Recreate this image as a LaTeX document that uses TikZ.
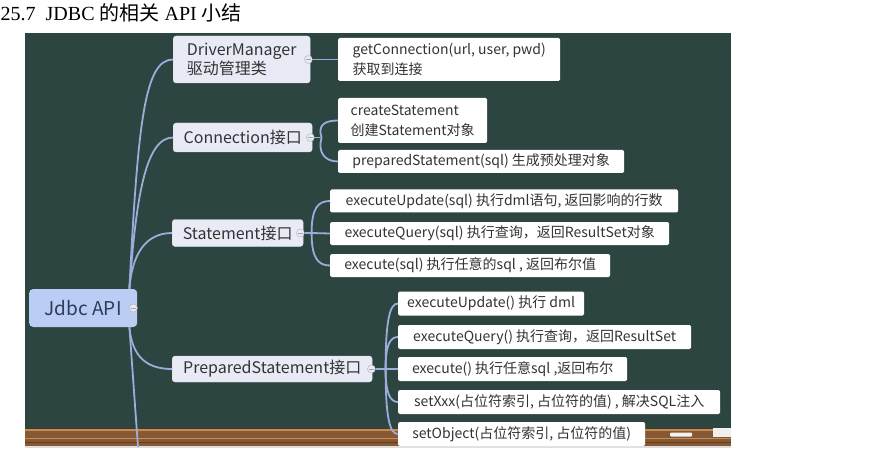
\documentclass[tikz,border=0pt]{standalone}
\usepackage{fontspec}
\setmainfont{Liberation Serif}
\newfontfamily\cjk{Noto Sans CJK SC}
\usetikzlibrary{positioning}

\definecolor{board}{RGB}{44,69,64}
\definecolor{wood}{RGB}{136,88,50}
\definecolor{woodlight}{RGB}{190,142,90}
\definecolor{branchblue}{RGB}{158,172,220}
\definecolor{topicfill}{RGB}{232,235,246}
\definecolor{rootfill}{RGB}{186,206,245}
\definecolor{inktext}{RGB}{51,51,51}
\definecolor{rootink}{RGB}{47,59,88}

\tikzset{
  rootbox/.style={fill=rootfill, rounded corners=4pt, text=rootink, font=\cjk\fontsize{19}{24}\selectfont, anchor=west},
  topicbox/.style={fill=topicfill, draw=topicfill!85!gray, rounded corners=3pt, text=inktext, font=\cjk\fontsize{16}{19}\selectfont, align=left, inner xsep=9pt, anchor=west},
  leafbox/.style={fill=white, rounded corners=1.5pt, text=inktext, font=\cjk\fontsize{14}{20}\selectfont, align=left, inner xsep=9pt, anchor=west},
  branchline/.style={draw=branchblue, line width=1.8pt},
  foldmark/.style={circle, draw=gray!60, fill=topicfill, inner sep=0pt, minimum size=8pt,
    path picture={\draw [gray!70, line width=0.9pt] ([xshift=-2.2pt]path picture bounding box.center) -- ([xshift=2.2pt]path picture bounding box.center);}},
}

\begin{document}
\begin{tikzpicture}[x=1pt, y=-1pt]
    \useasboundingbox (0,0) rectangle (874,454);
    \fill [white] (0,0) rectangle (874,454);

    % heading
    \node [anchor=base west] [inner sep=0pt] [font=\fontsize{20}{24}\selectfont] (heading) at (0.5,21) {25.7\ \ JDBC {\cjk 的相关} API {\cjk 小结}};

    % chalkboard and ledge
    \fill [board] (25,33) rectangle (731,428);
    \fill [wood] (25,428) rectangle (731,446);
    \fill [wood!60!black] (25,428) rectangle (731,429);
    \fill [woodlight] (25,429) rectangle (731,430.5);
    \fill [woodlight] (25,437.5) rectangle (731,439);
    \fill [wood!70!black] (25,442) rectangle (731,443);
    \fill [gray!25] (25,446) rectangle (731,448);
    \fill [white!90!gray, rounded corners=1pt] (670,432.5) rectangle (692,436.5);
    \fill [white!88!gray] (713,428) rectangle (731,437);

    % root and first level
    \node [rootbox] (api) at (29,308) [minimum width=108pt, minimum height=38pt] {Jdbc API};
    \node [topicbox] (dm) at (173,59.5) [minimum width=137pt, minimum height=47pt] {DriverManager\\驱动管理类};
    \node [topicbox] (conn) at (173,137.5) [minimum width=139pt, minimum height=29pt] {Connection接口};
    \node [topicbox] (stmt) at (172,233) [minimum width=131pt, minimum height=27pt] {Statement接口};
    \node [topicbox] (pstmt) at (172,369) [minimum width=200pt, minimum height=26pt] {PreparedStatement接口};

    % second level
    \node [leafbox] (getconn) at (338,59.5) [minimum width=222pt, minimum height=43pt] {getConnection(url, user, pwd)\\获取到连接};
    \node [leafbox] (createst) at (338,120.5) [minimum width=149pt, minimum height=45pt] {createStatement\\创建Statement对象};
    \node [leafbox] (prepst) at (338,161.5) [minimum width=286pt, minimum height=23pt] {preparedStatement(sql) 生成预处理对象};

    \node [leafbox] (stupd) at (330,201) [minimum width=348pt, minimum height=23pt] {executeUpdate(sql) 执行dml语句, 返回影响的行数};
    \node [leafbox] (stqry) at (330,233.5) [minimum width=339pt, minimum height=23pt] {executeQuery(sql) 执行查询，返回ResultSet对象};
    \node [leafbox] (stexe) at (330,265.5) [minimum width=280pt, minimum height=23pt] {execute(sql) 执行任意的sql , 返回布尔值};

    \node [leafbox] (psupd) at (398,303.5) [minimum width=185pt, minimum height=24pt] {executeUpdate() 执行 dml};
    \node [leafbox] (psqry) at (398,337) [minimum width=293pt, minimum height=24pt] {executeQuery() 执行查询，返回ResultSet};
    \node [leafbox] (psexe) at (398,369) [minimum width=229pt, minimum height=24pt] {execute() 执行任意sql ,返回布尔};
    \node [leafbox] (psset) at (398,402) [minimum width=322pt, minimum height=24pt] {setXxx(占位符索引, 占位符的值) , 解决SQL注入};
    \node [leafbox] (psobj) at (398,434) [minimum width=247pt, minimum height=24pt] {setObject(占位符索引, 占位符的值)};

    % fold marks
    \node [foldmark] (apifold) at ([xshift=-4pt]api.east) {};
    \node [foldmark] (dmfold) at ([xshift=-2pt]dm.east) {};
    \node [foldmark] (connfold) at ([xshift=-2pt]conn.east) {};
    \node [foldmark] (stmtfold) at ([xshift=-3pt]stmt.east) {};
    \node [foldmark] (pstmtfold) at ([xshift=-1pt]pstmt.east) {};

    % joints
    \coordinate (apitop) at ([xshift=-8pt]api.north east);
    \coordinate (apibottom) at ([xshift=-8pt]api.south east);
    \coordinate (offboard) at (138,447);
    \coordinate (connjoint) at ([xshift=7pt]connfold.east);
    \coordinate (stmtjoint) at ([xshift=7pt]stmtfold.east);
    \coordinate (pstmtjoint) at ([xshift=10pt]pstmtfold.east);

    % root branches
    \draw [branchline] (apitop) .. controls (138,120) and (145,59.5) .. (dm.west);
    \draw [branchline] (apitop) .. controls (136,200) and (145,137.5) .. (conn.west);
    \draw [branchline] (apitop) .. controls (132,255) and (145,233) .. (stmt.west);
    \draw [branchline] (apibottom) .. controls (132,355) and (145,369) .. (pstmt.west);
    \draw [branchline] (apibottom) -- (offboard);

    % DriverManager
    \draw [branchline] (dmfold) -- (getconn);

    % Connection
    \draw [branchline] (connfold) -- (connjoint);
    \draw [branchline] (connjoint) .. controls +(-4,-12) and +(-14,0) .. (createst.west);
    \draw [branchline] (connjoint) .. controls +(-4,14) and +(-14,0) .. (prepst.west);

    % Statement
    \draw [branchline] (stmtfold) -- (stmtjoint);
    \draw [branchline] (stmtjoint) .. controls +(0,-25) and +(-12,0) .. (stupd.west);
    \draw [branchline] (stmtjoint) -- (stqry.west);
    \draw [branchline] (stmtjoint) .. controls +(0,25) and +(-12,0) .. (stexe.west);

    % PreparedStatement
    \draw [branchline] (pstmtfold) -- (pstmtjoint);
    \draw [branchline] (pstmtjoint) .. controls +(0,-50) and +(-8,0) .. (psupd.west);
    \draw [branchline] (pstmtjoint) .. controls +(0,-24) and +(-8,0) .. (psqry.west);
    \draw [branchline] (pstmtjoint) -- (psexe.west);
    \draw [branchline] (pstmtjoint) .. controls +(0,24) and +(-8,0) .. (psset.west);
    \draw [branchline] (pstmtjoint) .. controls +(0,50) and +(-8,0) .. (psobj.west);

\end{tikzpicture}
\end{document}
